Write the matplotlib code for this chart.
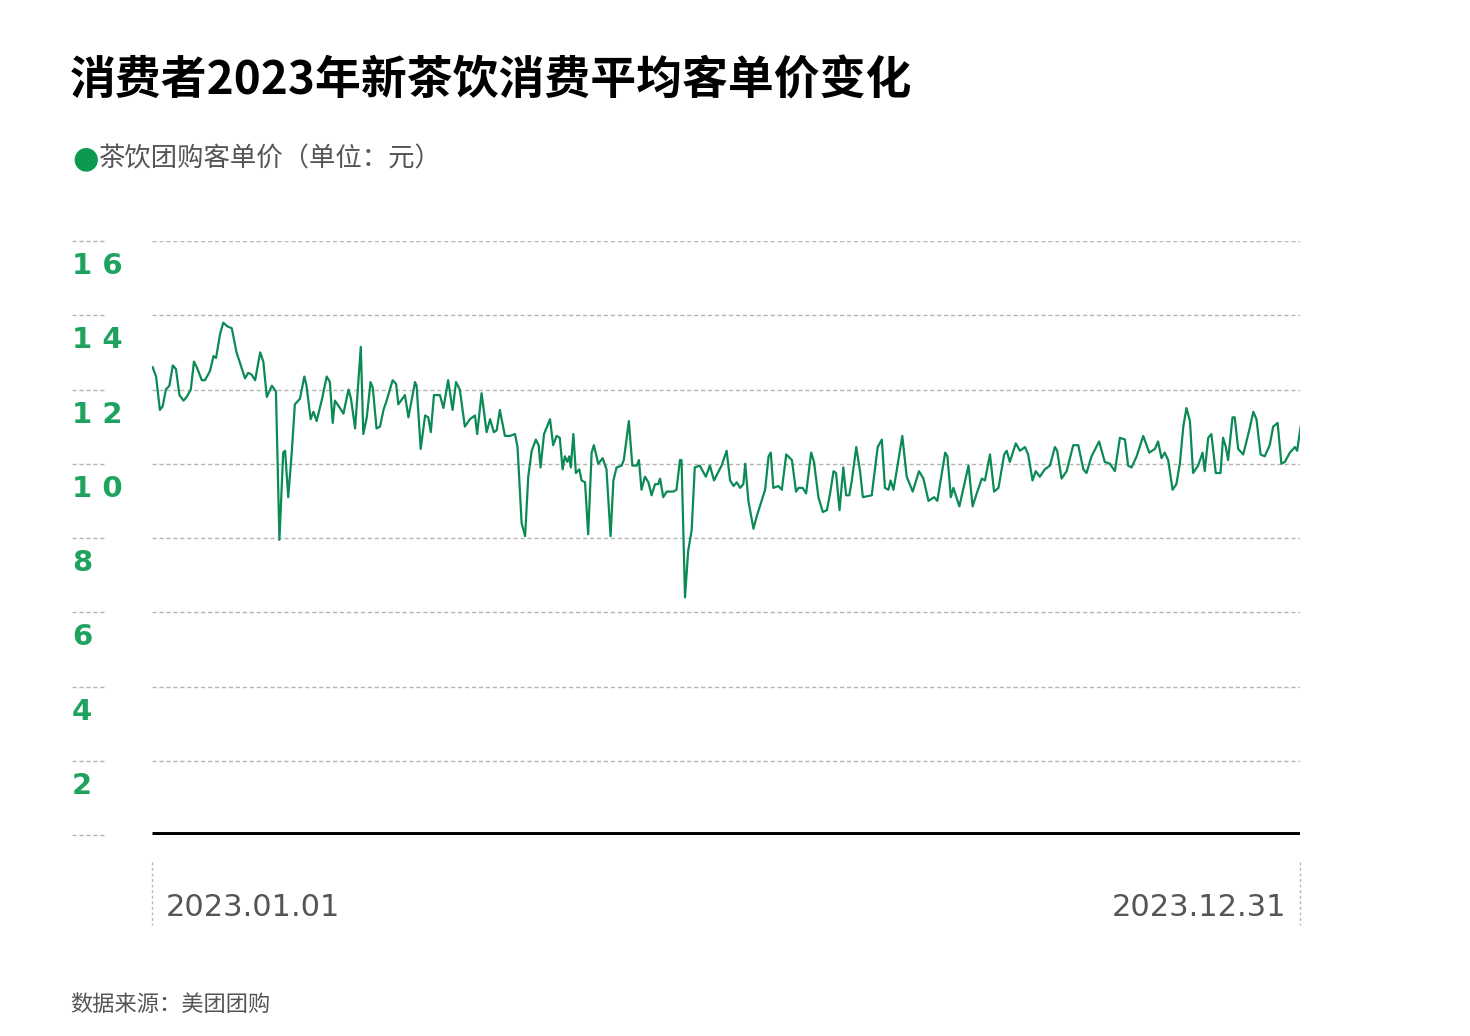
import matplotlib
matplotlib.use("Agg")
import matplotlib.pyplot as plt
from matplotlib.lines import Line2D
import matplotlib.transforms as mtransforms

plt.rcParams['font.family'] = ['Noto Sans CJK SC', 'DejaVu Sans']

days = [0.2,1.3,2.5,3.4,4.4,5.5,6.6,7.6,8.7,10.0,11.0,12.3,13.3,14.2,15.8,16.8,18.4,19.5,20.3,21.6,22.6,23.9,25.3,26.8,29.5,30.5,31.6,32.7,34.3,35.3,36.4,38.0,39.3,40.4,41.6,42.2,43.2,44.3,45.3,46.9,48.3,49.0,50.3,51.2,52.2,53.8,55.4,56.4,57.3,58.0,59.6,60.7,62.3,63.1,64.4,66.2,67.0,68.1,69.3,70.0,71.2,72.3,73.4,74.4,76.3,77.4,78.1,80.2,81.3,83.4,83.9,85.2,86.6,87.6,88.4,89.4,
        91.3,92.4,93.9,95.3,96.4,97.6,99.2,100.8,102.4,103.1,104.5,106.1,107.2,108.4,109.3,110.3,111.9,113.5,115.1,115.9,117.2,118.3,119.3,120.4,121.7,122.6,123.2,124.3,126.2,127.2,128.3,129.3,130.2,130.9,131.7,132.3,132.8,133.6,134.4,135.5,136.2,137.3,138.3,139.4,140.1,141.5,142.9,144.1,145.4,146.3,147.3,148.9,149.6,151.2,152.3,153.7,154.4,155.2,156.3,157.4,158.4,159.5,160.5,161.1,162.1,163.2,165.3,166.3,167.4,167.9,169.0,170.0,171.1,172.1,173.7,175.6,176.9,178.2,180.6,182.2,
        183.3,184.4,185.4,186.5,187.5,188.1,189.1,190.7,191.8,193.3,194.4,195.5,196.2,197.0,198.6,199.7,201.1,202.9,204.2,205.0,206.3,207.4,209.0,209.9,211.3,212.7,214.0,215.0,216.1,216.9,218.0,219.2,220.1,221.1,221.9,223.3,224.5,225.4,228.2,230.1,231.4,232.4,233.5,234.2,235.1,236.1,237.9,239.3,241.2,243.2,244.6,246.2,248.0,249.0,251.5,252.2,253.3,254.1,256.0,257.3,258.9,260.2,261.5,263.1,264.1,265.7,267.0,268.4,270.2,271.0,
        272.0,273.9,275.2,276.8,277.8,279.2,280.2,281.5,283.1,284.7,286.3,287.0,288.4,290.0,292.1,293.7,295.3,296.3,297.9,300.3,302.1,303.7,305.3,306.9,308.5,309.5,310.6,312.2,314.3,316.2,318.0,319.0,320.1,321.1,322.2,323.6,324.8,325.9,327.0,328.0,329.1,330.1,331.7,333.1,333.8,334.9,335.9,337.3,338.8,339.6,340.5,341.2,342.6,343.3,344.4,346.0,347.9,349.2,350.2,351.5,352.8,354.4,355.5,356.9,358.1,359.2,360.8,362.4,363.1,364.2]
values = [12.6,12.35,11.45,11.55,12.0,12.1,12.65,12.55,11.85,11.7,11.8,12.0,12.75,12.6,12.25,12.25,12.5,12.9,12.85,13.5,13.8,13.7,13.65,13.0,12.3,12.45,12.4,12.25,13.0,12.75,11.8,12.1,11.95,7.95,10.3,10.35,9.1,10.3,11.6,11.75,12.35,12.1,11.2,11.4,11.15,11.7,12.35,12.2,11.1,11.7,11.5,11.35,12.0,11.75,10.95,13.15,10.8,11.25,12.2,12.05,10.95,11.0,11.45,11.7,12.25,12.15,11.6,11.85,11.25,12.2,12.1,10.4,11.3,11.25,10.85,11.85,
          11.85,11.5,12.25,11.45,12.2,12.0,11.0,11.2,11.3,10.8,11.9,10.85,11.2,10.85,10.9,11.45,10.75,10.75,10.8,10.45,8.4,8.05,9.65,10.35,10.65,10.5,9.9,10.8,11.2,10.5,10.75,10.7,9.85,10.2,10.05,10.2,9.9,10.8,9.75,9.85,9.55,9.5,8.1,10.3,10.5,10.0,10.15,9.85,8.05,9.55,9.9,9.95,10.1,11.15,9.95,9.95,10.1,9.3,9.65,9.5,9.15,9.45,9.45,9.6,9.1,9.25,9.25,9.3,10.1,10.1,6.4,7.65,8.2,9.9,9.95,9.65,9.95,9.55,9.95,10.35,
          9.55,9.4,9.5,9.35,9.45,10.0,9.0,8.25,8.6,9.0,9.3,10.2,10.3,9.35,9.4,9.3,10.25,10.1,9.25,9.35,9.35,9.2,10.3,10.05,9.1,8.7,8.75,9.2,9.8,9.75,8.75,9.9,9.15,9.15,9.55,10.45,9.8,9.1,9.15,10.45,10.65,9.35,9.3,9.55,9.3,9.8,10.75,9.65,9.25,9.8,9.6,9.0,9.1,9.0,10.3,10.2,9.1,9.35,8.85,9.35,9.95,8.85,9.2,9.6,9.55,10.25,9.25,9.35,10.25,10.35,
          10.05,10.55,10.35,10.45,10.25,9.55,9.8,9.65,9.85,9.95,10.45,10.35,9.6,9.8,10.5,10.5,9.85,9.75,10.2,10.6,10.05,10.0,9.8,10.7,10.65,9.95,9.9,10.2,10.75,10.3,10.4,10.6,10.15,10.3,10.1,9.3,9.45,10.0,11.0,11.5,11.15,9.75,9.95,10.3,9.8,10.7,10.8,9.75,9.75,10.7,10.45,10.1,11.25,11.25,10.4,10.25,10.9,11.4,11.2,10.25,10.2,10.5,11.0,11.1,10.0,10.05,10.3,10.45,10.35,11.0]
yticks = [2, 4, 6, 8, 10, 12, 14, 16]
start_label, end_label = "2023.01.01", "2023.12.31"

W, H = 1470, 1036
fig = plt.figure(figsize=(W/100, H/100), dpi=100)
ax = fig.add_axes([152/W, (H-835)/H, (1300-152)/W, (835-241)/H])
ax.set_xlim(0, 364)
ax.set_ylim(0, 16)
ax.axis('off')

for v in yticks:
    ax.axhline(v, color='#b5b5b5', lw=1, ls=(0, (3, 2)), zorder=1)
ax.axhline(0, color='black', lw=5, zorder=3, solid_capstyle='butt')
ax.plot(days, values, color='#0b8a55', lw=1.6, zorder=4)

# left short dashes and labels
for v in yticks + [0]:
    yf = ax.transData.transform((0, v))[1] / H
    fig.add_artist(Line2D([72/W, 105/W], [yf, yf], color='#b5b5b5', lw=1, ls=(0, (3, 2))))
for v in yticks:
    yf = ax.transData.transform((0, v))[1] / H
    fig.text(72/W, yf - 25/H, " ".join(str(v)), color='#1ea25f', fontsize=21,
             fontweight='bold', family=['Liberation Sans Narrow', 'DejaVu Sans'], va='center', ha='left')

# vertical dotted ends
for xp in (152, 1300):
    fig.add_artist(Line2D([xp/W, xp/W], [(H-862)/H, (H-925)/H], color='#b5b5b5', lw=1, ls=(0, (2, 2))))
fig.text(166/W, (H-908)/H, start_label, fontsize=22, color='#555555',
         family=['Liberation Sans Narrow', 'DejaVu Sans'], va='center', ha='left')
fig.text(1286/W, (H-908)/H, end_label, fontsize=22, color='#555555',
         family=['Liberation Sans Narrow', 'DejaVu Sans'], va='center', ha='right')

fig.text(70/W, (H-82)/H, "消费者2023年新茶饮消费平均客单价变化", fontsize=33, fontweight='bold',
         color='black', va='center', ha='left')
fig.text(72/W, (H-159)/H, "●", fontsize=22, color='#0b9a50', va='center', ha='left',
         family=['DejaVu Sans'])
fig.text(99/W, (H-159)/H, "茶饮团购客单价（单位：元）", fontsize=19, color='#555555', va='center', ha='left')
fig.text(70/W, (H-1004)/H, "数据来源：美团团购", fontsize=16, color='#555555', va='center', ha='left')

fig.savefig("out.png", dpi=100, facecolor='white')
